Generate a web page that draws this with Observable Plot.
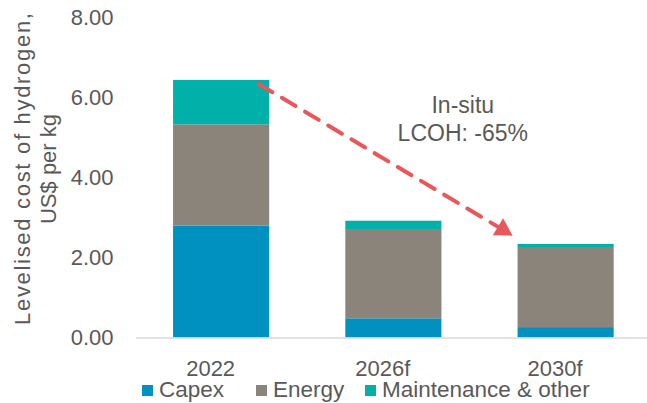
<!DOCTYPE html>
<html><head><meta charset="utf-8">
<script src="https://cdn.jsdelivr.net/npm/d3@7"></script>
<script src="https://cdn.jsdelivr.net/npm/@observablehq/plot@0.6"></script>
<style>
html,body{margin:0;padding:0;background:#fff;}
#wrap{position:relative;width:647px;height:403px;font-family:"Liberation Sans",Arial,sans-serif;color:#595959;}
#wrap svg{display:block;}
#legend{position:relative;height:20px;font-size:22.5px;line-height:20px;}
.item{position:absolute;top:0;height:20px;display:flex;align-items:center;white-space:nowrap;}
.sw{width:11px;height:11px;margin-right:6px;}
</style></head><body><div id="wrap"></div>
<script>
const years = ["2022", "2026f", "2030f"];
const series = ["Capex", "Energy", "Maintenance & other"];
const capex = [2.80, 0.48, 0.26];
const energy = [2.53, 2.21, 1.98];
const maint = [1.11, 0.23, 0.10];
const colors = ["#0091C1", "#8B847B", "#00B0A9"];
const yTicks = [0, 2, 4, 6, 8];
const yLabelLines = ["Levelised cost of hydrogen,", "US$ per kg"];
const note = ["In-situ\nLCOH: -65%"];
const arrowData = [{x1: 0.215, y1: 6.35, x2: 1.69, y2: 2.56}];
const noteData = [{x: 1.40, y: 5.50, text: note[0]}];

const values = [capex, energy, maint];
const rows = [];
years.forEach((yr, i) => {
  let base = 0;
  series.forEach((s, k) => {
    const v = values[k][i];
    rows.push({i, year: yr, series: s, y1: base, y2: base + v});
    base += v;
  });
});

const red = "#E8585B";
const half = 0.279;

const chart = Plot.plot({
  width: 647,
  height: 380,
  marginLeft: 136,
  marginRight: 0,
  marginTop: 17.5,
  marginBottom: 42.5,
  style: {fontFamily: "'Liberation Sans', Arial, sans-serif", fontSize: "22px", color: "#595959", background: "#fff", overflow: "visible"},
  x: {domain: [-0.5, 2.5], range: [135, 651.75], label: null},
  y: {domain: [0, 8], label: null},
  color: {domain: series, range: colors},
  marks: [
    Plot.rect(rows, {x1: d => d.i - half, x2: d => d.i + half, y1: "y1", y2: "y2", fill: "series"}),
    Plot.ruleY([0], {stroke: "#d9d9d9", strokeWidth: 1.5}),
    Plot.axisY({ticks: yTicks, tickFormat: d3.format(".2f"), tickSize: 0, tickPadding: 23, fontSize: 22, label: null}),
    Plot.axisX({ticks: [0, 1, 2], tickFormat: i => years[i], tickSize: 0, tickPadding: 22, dx: -11, fontSize: 22, label: null}),
    Plot.text([yLabelLines.join("\n")], {frameAnchor: "left", textAnchor: "middle", lineAnchor: "middle", rotate: -90, dx: -102, dy: -9, fontSize: 22, lineHeight: 1.2, fill: "#595959"}),
    Plot.text(noteData, {x: "x", y: "y", text: "text", fontSize: 23, lineHeight: 1.2, fill: "#595959"}),
    Plot.arrow(arrowData, {x1: "x1", y1: "y1", x2: "x2", y2: "y2", stroke: red, strokeWidth: 4, strokeDasharray: "16,11", headLength: 0, insetEnd: 10}),
    Plot.dot(arrowData, {x: "x2", y: "y2", symbol: "triangle", r: 7.4, fill: red, stroke: "none", rotate: 121, dx: -9.9, dy: -5.9})
  ]
});

// stretch the first y-label line to the reference's length
chart.querySelectorAll("tspan, text").forEach(el => {
  if (el.childElementCount === 0 && el.textContent === yLabelLines[0]) {
    el.setAttribute("textLength", "312");
    el.setAttribute("lengthAdjust", "spacing");
  }
});

const wrap = document.getElementById("wrap");
wrap.appendChild(chart);
const legend = document.createElement("div");
legend.id = "legend";
const lefts = [142, 256, 365];
series.forEach((s, k) => {
  const it = document.createElement("div");
  it.className = "item";
  it.style.left = lefts[k] + "px";
  const sw = document.createElement("span");
  sw.className = "sw";
  sw.style.background = colors[k];
  const t = document.createElement("span");
  t.textContent = s;
  it.appendChild(sw);
  it.appendChild(t);
  legend.appendChild(it);
});
wrap.appendChild(legend);
</script>
</body></html>
